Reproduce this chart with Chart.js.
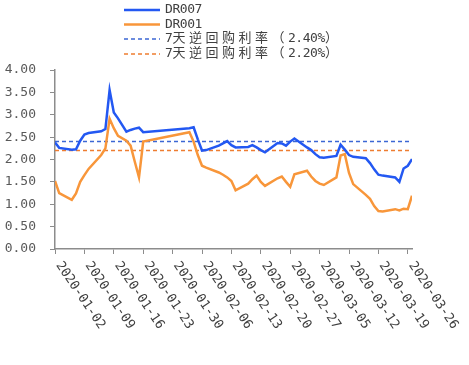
<!DOCTYPE html>
<html>
<head>
<meta charset="utf-8">
<script src="https://cdn.jsdelivr.net/npm/chart.js@4.4.1/dist/chart.umd.min.js"></script>
<style>
  html, body { margin: 0; padding: 0; background: #fff; }
  #wrap { width: 469px; height: 365px; position: relative; }
</style>
</head>
<body>
<div id="wrap"><canvas id="chartRepo"></canvas></div>
<script>
// trading days (interbank), Q1 2020
const fechas = [
    '2020-01-02','2020-01-03','2020-01-06','2020-01-07','2020-01-08','2020-01-09','2020-01-10',
    '2020-01-13','2020-01-14','2020-01-15','2020-01-16','2020-01-17','2020-01-19','2020-01-20',
    '2020-01-21','2020-01-22','2020-01-23',
    '2020-02-03','2020-02-04','2020-02-05','2020-02-06','2020-02-07','2020-02-10','2020-02-11',
    '2020-02-12','2020-02-13','2020-02-14','2020-02-17','2020-02-18','2020-02-19','2020-02-20',
    '2020-02-21','2020-02-24','2020-02-25','2020-02-26','2020-02-27','2020-02-28',
    '2020-03-02','2020-03-03','2020-03-04','2020-03-05','2020-03-06','2020-03-09','2020-03-10',
    '2020-03-11','2020-03-12','2020-03-13','2020-03-16','2020-03-17','2020-03-18','2020-03-19',
    '2020-03-20','2020-03-23','2020-03-24','2020-03-25','2020-03-26','2020-03-27'
];
const dr007 = [
    2.38, 2.26, 2.22, 2.23, 2.42, 2.56, 2.59, 2.63, 2.68, 3.55, 3.05, 2.92, 2.62, 2.66, 2.69, 2.71, 2.61,
    2.70, 2.72, 2.45, 2.20, 2.21, 2.31, 2.36, 2.41, 2.32, 2.27, 2.28, 2.32, 2.27, 2.21, 2.16, 2.37, 2.36, 2.31, 2.40, 2.47,
    2.27, 2.21, 2.12, 2.05, 2.04, 2.08, 2.33, 2.22, 2.10, 2.06, 2.03, 1.92, 1.78, 1.66, 1.64, 1.60, 1.50, 1.80, 1.86, 2.01
];
const dr001 = [
    1.52, 1.25, 1.10, 1.24, 1.50, 1.65, 1.79, 2.10, 2.25, 2.91, 2.70, 2.53, 2.42, 2.31, 1.95, 1.60, 2.40,
    2.61, 2.40, 2.10, 1.86, 1.82, 1.71, 1.66, 1.60, 1.52, 1.31, 1.46, 1.56, 1.64, 1.50, 1.41, 1.58, 1.62, 1.50, 1.39, 1.67,
    1.75, 1.62, 1.52, 1.46, 1.43, 1.60, 2.09, 2.12, 1.70, 1.45, 1.21, 1.12, 0.96, 0.85, 0.84, 0.89, 0.86, 0.90, 0.89, 1.19
];
const tasaRepo7d = [2.40, 2.20];
const etiquetas = ['DR007', 'DR001', '7天逆回购利率（2.40%）', '7天逆回购利率（2.20%）'];
const ticksFecha = [
    '2020-01-02','2020-01-09','2020-01-16','2020-01-23','2020-01-30','2020-02-06','2020-02-13',
    '2020-02-20','2020-02-27','2020-03-05','2020-03-12','2020-03-19','2020-03-26'
];
const ticksY = [0, 0.5, 1, 1.5, 2, 2.5, 3, 3.5, 4];

const AZUL = '#2358f2';
const NARANJA = '#f8963a';
const AZUL_DASH = '#3c67d4';
const NARANJA_DASH = '#ee7d31';
const MONO = '"DejaVu Sans Mono", "Noto Sans CJK SC", monospace';

const DIA0 = Date.parse(fechas[0]);
function diaDe(f) { return Math.round((Date.parse(f) - DIA0) / 86400000); }
const diaFin = diaDe(fechas[fechas.length - 1]);

function serie(valores) {
    return fechas.map((f, i) => ({ x: diaDe(f), y: valores[i] }));
}
function lineaFija(v) {
    return [{ x: 0, y: v }, { x: diaFin, y: v }];
}

// rotated date labels going down-right from each tick
const etiquetasX = {
    id: 'etiquetasX',
    afterDraw(chart) {
        const ctx = chart.ctx;
        const xs = chart.scales.x;
        const base = chart.chartArea.bottom;
        ctx.save();
        ctx.font = '13px ' + MONO;
        ctx.fillStyle = '#404040';
        ctx.textAlign = 'left';
        ctx.textBaseline = 'middle';
        ticksFecha.forEach(f => {
            const px = xs.getPixelForValue(diaDe(f));
            ctx.save();
            ctx.translate(px + 3.5, base + 14);
            ctx.rotate(56 * Math.PI / 180);
            ctx.fillText(f, 0, 0);
            ctx.restore();
        });
        ctx.restore();
    }
};

// legend block, top right, items stacked
const leyenda = {
    id: 'leyenda',
    afterDraw(chart) {
        const ctx = chart.ctx;
        const x0 = 124, largo = 36, xTexto = 165;
        const filas = [10, 24.5, 39, 54];
        ctx.save();
        chart.data.datasets.forEach((ds, i) => {
            const y = filas[i];
            ctx.strokeStyle = ds.borderColor;
            ctx.lineWidth = ds.borderDash.length ? 1.5 : 2.5;
            ctx.setLineDash(ds.borderDash);
            ctx.beginPath();
            ctx.moveTo(x0, y);
            ctx.lineTo(x0 + largo, y);
            ctx.stroke();
            ctx.setLineDash([]);
            ctx.fillStyle = '#404040';
            ctx.textBaseline = 'middle';
            ctx.textAlign = 'left';
            let x = xTexto;
            for (const ch of ds.label) {
                const ancho = /[^\x00-\x7F]/.test(ch);
                ctx.font = (ancho ? '13px ' : '13px ') + MONO;
                ctx.fillText(ch, x, y);
                x += ancho ? 16.5 : 7.4;
            }
        });
        ctx.restore();
    }
};

document.addEventListener('DOMContentLoaded', function() {
    const ctx = document.getElementById('chartRepo');
    new Chart(ctx, {
        type: 'line',
        data: {
            datasets: [
                { label: etiquetas[0], data: serie(dr007), borderColor: AZUL, borderWidth: 2.5, borderDash: [] },
                { label: etiquetas[1], data: serie(dr001), borderColor: NARANJA, borderWidth: 2.5, borderDash: [] },
                { label: etiquetas[2], data: lineaFija(tasaRepo7d[0]), borderColor: AZUL_DASH, borderWidth: 1.5, borderDash: [4, 3] },
                { label: etiquetas[3], data: lineaFija(tasaRepo7d[1]), borderColor: NARANJA_DASH, borderWidth: 1.5, borderDash: [4, 3] }
            ]
        },
        options: {
            responsive: true,
            maintainAspectRatio: false,
            animation: false,
            elements: { point: { radius: 0 }, line: { tension: 0, fill: false } },
            layout: { padding: { top: 70, right: 57, left: 0, bottom: 0 } },
            plugins: { legend: { display: false }, tooltip: { enabled: false } },
            scales: {
                x: {
                    type: 'linear',
                    min: 0,
                    max: diaFin,
                    afterFit: s => { s.height = 116; },
                    border: { display: true, color: '#8c8c8c', width: 1.5 },
                    grid: { drawOnChartArea: false, drawTicks: true, tickLength: 5, color: '#8c8c8c', lineWidth: 1 },
                    ticks: { stepSize: 7, includeBounds: false, autoSkip: false, maxRotation: 0, callback: () => '' }
                },
                y: {
                    min: 0,
                    max: 4,
                    afterFit: s => { s.width = 55; },
                    afterBuildTicks: s => { s.ticks = ticksY.map(v => ({ value: v })); },
                    border: { display: true, color: '#8c8c8c', width: 1.5 },
                    grid: { drawOnChartArea: false, drawTicks: true, tickLength: 5, color: '#8c8c8c', lineWidth: 1 },
                    ticks: {
                        padding: 14,
                        color: '#595959',
                        font: { family: MONO, size: 13 },
                        callback: v => v.toFixed(2)
                    }
                }
            }
        },
        plugins: [etiquetasX, leyenda]
    });
});
</script>
</body>
</html>
